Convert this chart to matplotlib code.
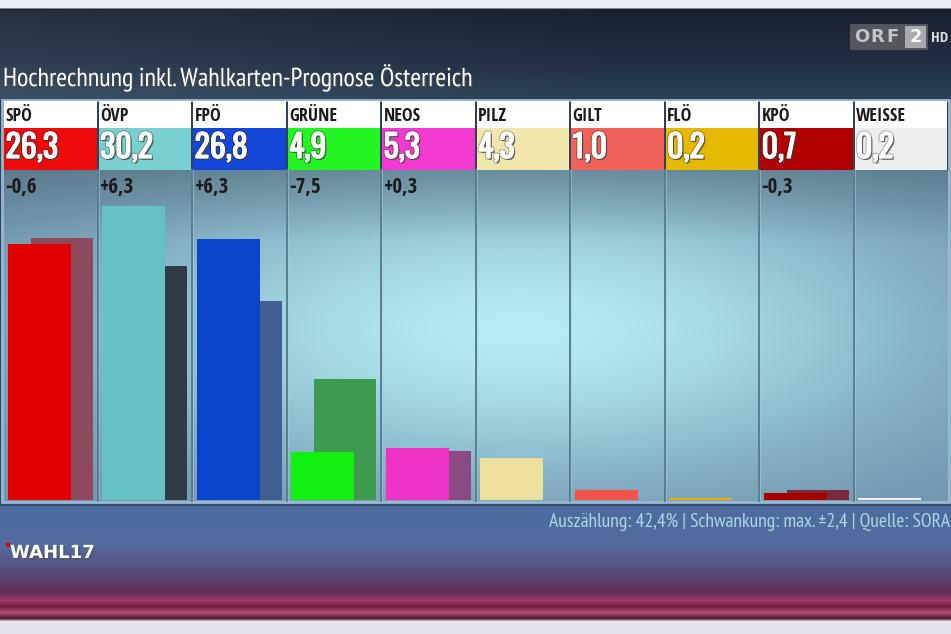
import numpy as np
import matplotlib
matplotlib.use("Agg")
import matplotlib.pyplot as plt
import matplotlib.patheffects as pe
from matplotlib.patches import Rectangle, FancyBboxPatch

# Daten: Hochrechnung NRW 2017 (ORF / SORA)
parties = ["SPÖ", "ÖVP", "FPÖ", "GRÜNE", "NEOS", "PILZ", "GILT", "FLÖ", "KPÖ", "WEISSE"]
current = [26.3, 30.2, 26.8, 4.9, 5.3, 4.3, 1.0, 0.2, 0.7, 0.2]
previous = [26.9, 24.0, 20.5, 12.4, 5.0, np.nan, np.nan, np.nan, 1.0, np.nan]
change_labels = ["-0,6", "+6,3", "+6,3", "-7,5", "+0,3", "", "", "", "-0,3", ""]

colors = ["#e00000", "#66c2c2", "#0b45cc", "#12f012", "#ee32c6",
          "#ece09c", "#f2544c", "#e2b400", "#a80000", "#f0f0f0"]
box_colors = ["#ee0a0a", "#7ad0d0", "#1446d8", "#22f522", "#f23ad0",
              "#f1e7ad", "#f0625a", "#e6b800", "#b00000", "#eeeeee"]
prev_colors = ["#8c4a5c", "#2f3c48", "#3f5f92", "#3d9a4e", "#8c4a84",
               "#888888", "#888888", "#888888", "#7a2a3a", "#888888"]

W, H = 951, 634
PX_PER_PCT = 9.73
narrow = ["PT Sans Narrow", "Open Sans Condensed", "DejaVu Sans"]
cond_bold = ["Open Sans Condensed", "PT Sans Narrow", "DejaVu Sans"]
tall = ["Oswald", "Open Sans Condensed", "DejaVu Sans"]


def vgrad(ys, stops):
    pos = [s[0] for s in stops]
    return np.stack([np.interp(ys, pos, [s[1][c] for s in stops]) for c in range(3)], axis=-1)


def main():
    fig = plt.figure(figsize=(W / 100, H / 100), dpi=100)

    # hintergrund als bild
    yy, xx = np.mgrid[0:H, 0:W].astype(float)
    img = vgrad(yy[:, 0], [
        (0, (0.93, 0.94, 0.96)), (7, (0.93, 0.94, 0.96)), (9, (0.10, 0.13, 0.18)),
        (60, (0.13, 0.18, 0.25)), (100, (0.17, 0.26, 0.35)), (505, (0.20, 0.30, 0.42)),
        (506, (0.30, 0.42, 0.62)), (545, (0.33, 0.42, 0.62)), (572, (0.34, 0.30, 0.48)),
        (592, (0.38, 0.18, 0.34)), (600, (0.62, 0.22, 0.40)), (606, (0.42, 0.12, 0.24)),
        (612, (0.72, 0.30, 0.45)), (618, (0.30, 0.10, 0.20)), (621, (0.90, 0.90, 0.93)),
        (634, (0.90, 0.90, 0.93)),
    ])[:, None, :].repeat(W, axis=1)
    # linke seite beim titel etwas heller
    top = (yy > 9) & (yy < 100)
    img[top] += (0.06 * np.clip(1 - xx / 600, 0, 1))[top][:, None]

    # panel mit radialem licht
    dark = np.array([0.42, 0.56, 0.66])
    light = np.array([0.70, 0.93, 0.95])
    b = np.exp(-((xx - 520) / 420) ** 2 - ((yy - 330) / 150) ** 2)
    panel = dark + (light - dark) * b[..., None]
    topfade = np.clip((yy - 170) / 70, 0, 1)[..., None]
    panel = panel * (0.82 + 0.18 * topfade)
    mask = (yy >= 170) & (yy <= 501) & (xx >= 3) & (xx <= 948)
    img[mask] = panel[mask]
    img = np.clip(img, 0, 1)

    bg = fig.add_axes([0, 0, 1, 1])
    bg.imshow(img, extent=(0, W, H, 0), aspect="auto", interpolation="bilinear")
    bg.set_xlim(0, W)
    bg.set_ylim(H, 0)
    bg.axis("off")

    col_w = (948 - 3) / len(parties)

    # rahmen + trennlinien
    bg.add_patch(Rectangle((2, 100), 947, 402, fill=False, ec="#9cb8d0", lw=2))
    for i in range(1, len(parties)):
        x = 3 + i * col_w
        bg.plot([x, x], [170, 501], color="#5a7d92", lw=1.4)
        bg.plot([x + 1.2, x + 1.2], [170, 501], color="#a9cfdb", lw=0.6, alpha=0.6)

    # titel
    bg.text(3, 78, "Hochrechnung inkl. Wahlkarten-Prognose Österreich", color="white",
            fontsize=18.8, family=narrow, va="center", ha="left",
            path_effects=[pe.withSimplePatchShadow(offset=(1, -1), alpha=0.6)])

    # ORF 2 HD logo
    bg.add_patch(FancyBboxPatch((850, 24), 78, 26, boxstyle="round,pad=0,rounding_size=2",
                                fc="#5a5c62", ec="none", alpha=0.9))
    for k, ch in enumerate("ORF"):
        bg.text(862 + k * 15.5, 37.5, ch, color="#c4c6c8", fontsize=13, fontweight="bold",
                va="center", ha="center", family="DejaVu Sans")
    bg.add_patch(Rectangle((905, 26), 21, 22, fc="#a8aaad", ec="none"))
    bg.text(915.5, 37.5, "2", color="#f4f4f4", fontsize=13, fontweight="bold",
            va="center", ha="center", family="DejaVu Sans")
    bg.text(931, 37.5, "HD", color="#dddddd", fontsize=11, fontweight="bold",
            va="center", ha="left", family=cond_bold)

    # kopfzeilen
    for i, name in enumerate(parties):
        x0 = 3 + i * col_w + 1
        bw = col_w - 2
        bg.add_patch(Rectangle((x0, 101), bw, 27, fc="white", ec="none"))
        bg.add_patch(Rectangle((x0, 128), bw, 42, fc=box_colors[i], ec="none"))
        bg.text(x0 + 1.5, 116, name, color="#1a1a1a", fontsize=13, fontweight="bold",
                family=cond_bold, va="center", ha="left")
        val = f"{current[i]:.1f}".replace(".", ",")
        bg.text(x0 + 1.5, 148, val, color="white", fontsize=23, fontweight="bold",
                family=tall, va="center", ha="left",
                path_effects=[pe.withSimplePatchShadow(offset=(1.3, -1.3), alpha=0.7),
                              pe.withStroke(linewidth=2.2, foreground="#00000050"),
                              pe.withStroke(linewidth=0.9, foreground="white")])
        if change_labels[i]:
            bg.text(x0 + 1.5, 187, change_labels[i], color="#1a1a1a", fontsize=15,
                    fontweight="bold", family=cond_bold, va="center", ha="left")

    # fusszeile
    bg.text(950, 522, "Auszählung: 42,4% | Schwankung: max. ±2,4 | Quelle: SORA",
            color="#a6dbe3", fontsize=14, family=narrow, va="center", ha="right")
    bg.add_patch(Rectangle((6, 543), 3.5, 3.5, fc="#e00000", ec="none"))
    bg.text(10, 553, "WAHL17", color="white", fontsize=13, fontweight="bold",
            family="DejaVu Sans", va="center", ha="left",
            path_effects=[pe.withSimplePatchShadow(offset=(1, -1), alpha=0.6)])

    # balken
    ax = fig.add_axes([3 / W, (H - 500) / H, 945 / W, 330 / H])
    ax.patch.set_alpha(0)
    ax.set_xlim(-0.5, len(parties) - 0.5)
    ax.set_ylim(0, 330 / PX_PER_PCT)
    ax.axis("off")

    x = np.arange(len(parties))
    ax.bar(x + 0.124, previous, width=0.656, color=prev_colors, zorder=1)
    ax.bar(x - 0.114, current, width=0.667, color=colors, zorder=2)

    fig.savefig("out.png", dpi=100)


if __name__ == "__main__":
    main()
